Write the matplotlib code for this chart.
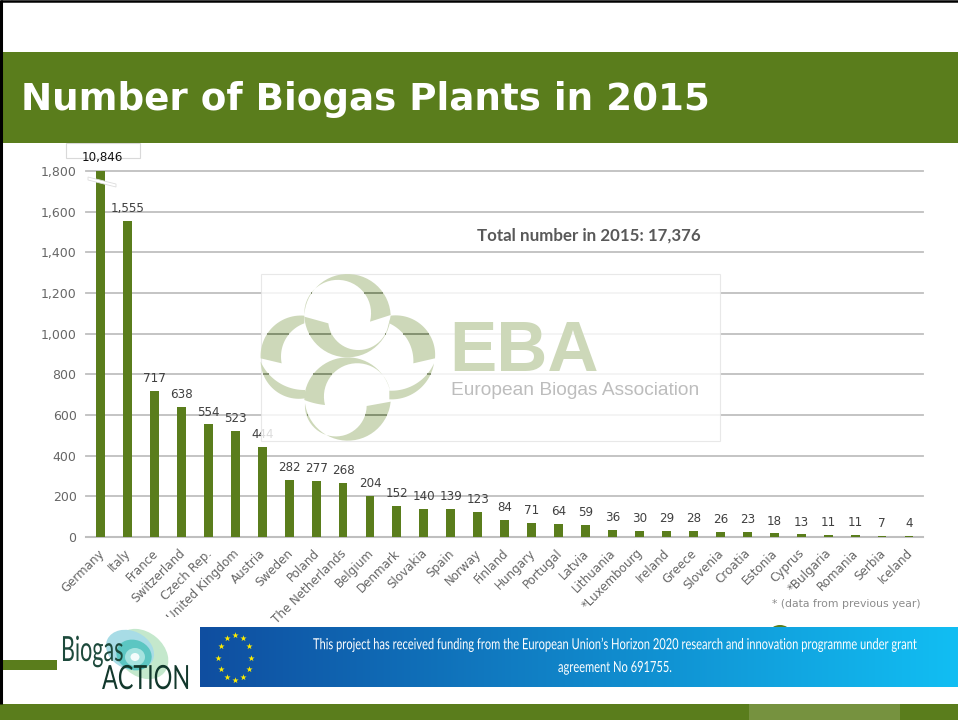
import numpy as np
import matplotlib
matplotlib.use("Agg")
import matplotlib.pyplot as plt
from matplotlib.patches import Rectangle, Ellipse, Polygon
from matplotlib.path import Path
from matplotlib.patheffects import AbstractPathEffect
from matplotlib.transforms import Affine2D

countries = ["Germany", "Italy", "France", "Switzerland", "Czech Rep.", "United Kingdom", "Austria",
             "Sweden", "Poland", "The Netherlands", "Belgium", "Denmark", "Slovakia", "Spain", "Norway",
             "Finland", "Hungary", "Portugal", "Latvia", "Lithuania", "*Luxembourg", "Ireland", "Greece",
             "Slovenia", "Croatia", "Estonia", "Cyprus", "*Bulgaria", "Romania", "Serbia", "Iceland"]
plants = [10846, 1555, 717, 638, 554, 523, 444, 282, 277, 268, 204, 152, 140, 139, 123,
          84, 71, 64, 59, 36, 30, 29, 28, 26, 23, 18, 13, 11, 11, 7, 4]
yticks = list(range(0, 2000, 200))
title = "Number of Biogas Plants in 2015"
total_note = "Total number in 2015: 17,376"
foot_note = "* (data from previous year)"
funding_1 = "This project has received funding from the European Union’s Horizon 2020 research and innovation programme under grant"
funding_2 = "agreement No 691755."

GREEN = "#5a7d1c"
LOGO = "#cdd8b9"
W, H = 958, 720


class Condense(AbstractPathEffect):
    """Squeeze text horizontally around its origin, optionally stretching and shifting it."""
    def __init__(self, sx, sy=1.0, dx=0.0):
        super().__init__()
        self.sx, self.sy, self.dx = sx, sy, dx

    def draw_path(self, renderer, gc, tpath, affine, rgbFace=None):
        m = affine.get_matrix()
        x0, y0 = m[0, 2], m[1, 2]
        a = affine + Affine2D().translate(-x0, -y0).scale(self.sx, self.sy).translate(x0 + self.dx, y0)
        renderer.draw_path(gc, tpath, a, rgbFace)


def arc3(p0, p1, p2, n=30):
    (ax_, ay), (bx, by), (cx, cy) = p0, p1, p2
    d = 2 * (ax_ * (by - cy) + bx * (cy - ay) + cx * (ay - by))
    ux = ((ax_**2 + ay**2) * (by - cy) + (bx**2 + by**2) * (cy - ay) + (cx**2 + cy**2) * (ay - by)) / d
    uy = ((ax_**2 + ay**2) * (cx - bx) + (bx**2 + by**2) * (ax_ - cx) + (cx**2 + cy**2) * (bx - ax_)) / d
    a0 = np.arctan2(ay - uy, ax_ - ux)
    a1 = np.arctan2(by - uy, bx - ux)
    a2 = np.arctan2(cy - uy, cx - ux)
    da1 = (a1 - a0) % (2 * np.pi)
    da2 = (a2 - a0) % (2 * np.pi)
    if da1 > da2:
        da2 -= 2 * np.pi
    t = a0 + np.linspace(0, 1, n) * da2
    r = np.hypot(ax_ - ux, ay - uy)
    return np.c_[ux + r * np.cos(t), uy + r * np.sin(t)]


def shape(*arcs):
    return np.vstack([arc3(*a) for a in arcs])


fig = plt.figure(figsize=(W / 100, H / 100), dpi=100, facecolor="white")
bg = fig.add_axes([0, 0, 1, 1], zorder=0)
bg.set_xlim(0, W); bg.set_ylim(H, 0); bg.axis("off")

# chart axes
ax = fig.add_axes([86 / W, 1 - 537 / H, (923 - 86) / W, (537 - 171) / H], zorder=2)
ax.patch.set_alpha(0)
ovl = fig.add_axes([0, 0, 1, 1], zorder=3)
ovl.set_xlim(0, W); ovl.set_ylim(H, 0); ovl.axis("off")

x = np.arange(len(countries))
ax.bar(x, plants, width=0.33, color=GREEN, zorder=3)
ax.set_xlim(-0.538, 30.52)
ax.set_ylim(0, 1800)
ax.set_yticks(yticks)
ax.set_yticklabels([f"{v:,}" for v in yticks], fontsize=9, color="#666666")
ax.set_xticks(x)
ax.set_xticklabels(countries, rotation=45, ha="right", va="top", rotation_mode="anchor",
                   fontsize=8.6, color="#666666")
ax.tick_params(length=0, axis="both")
ax.tick_params(axis="y", pad=6.8)
ax.tick_params(axis="x", pad=7)
for lbl in ax.get_xticklabels():
    lbl.set_transform(lbl.get_transform() + Affine2D().translate(-3, 0))
for s in ("top", "right", "left"):
    ax.spines[s].set_visible(False)
ax.spines["bottom"].set_color("#bfbfbf")
ax.spines["bottom"].set_linewidth(1.5)
ax.yaxis.grid(True, color="#bfbfbf", linewidth=1.3, zorder=1)
ax.set_axisbelow(True)
for gl in ax.get_ygridlines():
    gl.set_clip_on(False)

for xi, v in zip(x, plants):
    if v > 1800:
        ax.annotate(f"{v:,}", (xi, 1800), xytext=(1.5, 5), textcoords="offset points",
                    ha="center", va="bottom", fontsize=8.6, color="#111111", zorder=5, annotation_clip=False)
    else:
        ax.annotate(f"{v:,}", (xi, v), xytext=(0, 4.2), textcoords="offset points",
                    ha="center", va="bottom", fontsize=8.6, color="#404040", zorder=5)

# axis-break mark and its label box
ovl.add_patch(Polygon([(88, 177), (116, 184), (116, 187), (88, 180)], closed=True, fc="white",
                      ec="#dddddd", lw=0.6))
bg.add_patch(Rectangle((66, 143), 74, 15, fc="white", ec="#d9d9d9", lw=0.8))

# header, frame, footer
bg.add_patch(Rectangle((0, 52), W, 91, fc=GREEN, ec="none"))
ovl.plot([1.5, 1.5], [0, 704], color="black", lw=2.2, solid_capstyle="butt")
ovl.plot([0, W], [1.2, 1.2], color="black", lw=1.8, solid_capstyle="butt")
ovl.text(21, 100, title, fontsize=26.8, fontweight="bold", color="white", family="DejaVu Sans",
         ha="left", va="center")
ovl.add_patch(Rectangle((0, 704), W, 16, fc=GREEN, ec="none"))
ovl.add_patch(Rectangle((749, 704), 151, 16, fc="#76923f", ec="none"))

# semi-transparent EBA logo over the plot
ovl.add_patch(Rectangle((261, 274), 459, 167, fc="white", ec="#e4e4e4", lw=0.8, alpha=0.82))


def z2p(pts):
    p = np.asarray(pts, float)
    return np.c_[250 + p[:, 0] / 3, 260 + p[:, 1] / 3]


shapes = [
    shape(((163, 165), (292, 42), (422, 165)), ((360, 185), (285, 62), (163, 165))),
    shape(((32, 295), (75, 195), (163, 167)), ((163, 190), (115, 225), (95, 310))),
    shape(((163, 170), (292, 292), (422, 170)), ((415, 195), (320, 270), (235, 190))),
    shape(((422, 167), (520, 200), (555, 295)), ((490, 310), (470, 235), (418, 190))),
    shape(((32, 305), (80, 395), (165, 415)), ((165, 390), (90, 370), (32, 305))),
    shape(((165, 395), (292, 292), (420, 392)), ((420, 392), (330, 310), (225, 435)), ((225, 435), (195, 430), (163, 420))),
    shape(((552, 310), (505, 390), (418, 418)), ((418, 392), (500, 370), (552, 310))),
    shape(((165, 430), (292, 542), (422, 425)), ((350, 438), (325, 500), (165, 430))),
]
logo_polys = [z2p(s) for s in shapes]
for pts in logo_polys:
    ovl.add_patch(Polygon(pts, closed=True, fc=LOGO, ec="none", zorder=1.5))

# grid lines stay visible through the logo
xs = np.linspace(261, 435, 700)
for v in yticks[1:]:
    y_px = ovl.transData.inverted().transform(ax.transData.transform((0, v)))[1]
    pts = np.c_[xs, np.full_like(xs, y_px)]
    inside = np.zeros(len(xs), bool)
    for poly in logo_polys:
        inside |= Path(np.vstack([poly, poly[:1]])).contains_points(pts)
    ovl.plot(xs, np.where(inside, y_px, np.nan), color="#7f8c6c", lw=1.3, zorder=1.6, solid_capstyle="butt")

ovl.text(449, 371, "EBA", fontsize=51, fontweight="bold", family="Liberation Sans", color=LOGO,
         ha="left", va="baseline")
ovl.text(451, 395, "European Biogas Association", fontsize=13.75, family="Liberation Sans", color="#bdbdbd",
         ha="left", va="baseline")
ovl.text(477, 236, total_note, fontsize=12.2, fontweight="bold", family="Lato", color="#595959",
         ha="left", va="center")
ovl.text(921, 604, foot_note, fontsize=7.8, color="#8c8c8c", ha="right", va="center")

# white backing for the project logo, clipping the long tick label
ovl.add_patch(Rectangle((57, 617), 141, 75, fc="white", ec="none"))
ovl.add_patch(Rectangle((0, 660), 57, 10, fc=GREEN, ec="none"))
ovl.add_patch(Ellipse((780, 632), 20, 14, fc=GREEN, ec="none"))

# funding banner
grad = np.linspace(0, 1, 256)[None, :, None]
c0 = np.array([15, 78, 160]) / 255
c1 = np.array([18, 190, 243]) / 255
ovl.imshow(c0 + (c1 - c0) * grad, extent=(200, W, 687, 627), aspect="auto", zorder=3)
ovl.set_xlim(0, W); ovl.set_ylim(H, 0)
ang = np.deg2rad(np.arange(0, 360, 30))
ovl.scatter(235 + 16.5 * np.sin(ang), 657.5 - 22.5 * np.cos(ang), marker="*", s=22, color="#ffee00",
            linewidths=0, zorder=4)
ovl.text(202, 645, funding_1, fontsize=10, family="Lato", color="white", ha="left", va="center", zorder=5,
         path_effects=[Condense(0.799, 1.1, 111)])
ovl.text(558, 668, funding_2, fontsize=10, family="Lato", color="white", ha="left", va="center", zorder=5,
         path_effects=[Condense(0.799, 1.1)])

# Biogas Action logo
for (cx, cy, w, h, a, col) in [(142, 654, 58, 44, 40, "#c4e8cc"), (130, 650, 50, 38, 25, "#a8dce6"),
                               (134, 655, 36, 30, 20, "#5cc6c2"), (135, 657, 20, 18, 0, "#a5e3df"),
                               (135, 657, 9, 8, 0, "#f5fcfb")]:
    ovl.add_patch(Ellipse((cx, cy), w, h, angle=a, fc=col, ec="none", zorder=4))
ovl.text(61, 661, "Biogas", fontsize=25, family="Lato", color="#1d4a3c", ha="left", va="baseline", zorder=5,
         path_effects=[Condense(0.62)])
ovl.text(102, 689, "ACTION", fontsize=24, family="Lato", color="#12382c", ha="left", va="baseline", zorder=5,
         path_effects=[Condense(0.70)])

fig.savefig("out.png", dpi=100, facecolor="white")
